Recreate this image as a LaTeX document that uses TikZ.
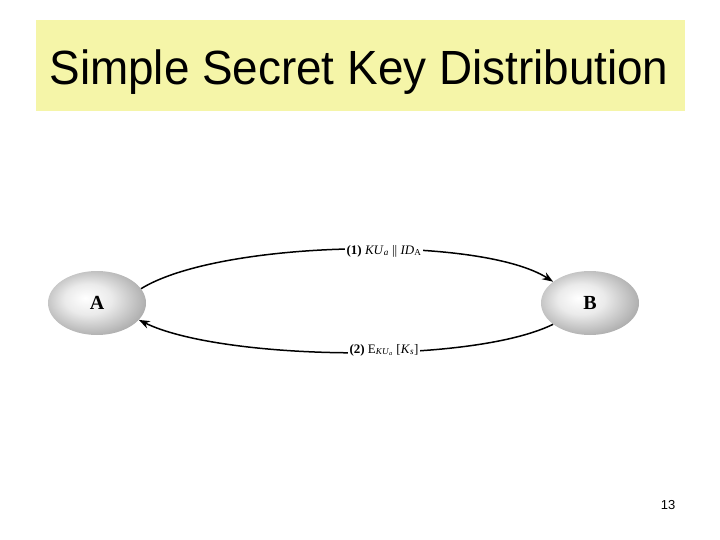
\documentclass[tikz,border=0pt]{standalone}
\usepackage{fontspec}
\setmainfont{Liberation Serif}
\newfontfamily\titlefont{Liberation Sans}
\usetikzlibrary{arrows.meta,shapes.geometric}
\definecolor{titlebg}{RGB}{245,245,168}
\pgfdeclareradialshading{ballgray}{\pgfpoint{-6bp}{4bp}}{%
  color(0bp)=(white);
  color(12bp)=(black!8);
  color(32bp)=(black!38);
  color(50bp)=(black!55)}
\tikzset{
  party/.style={ellipse, minimum width=98pt, minimum height=64pt, shading=ballgray, inner sep=0pt, font=\fontsize{20}{20}\selectfont\bfseries},
  msg/.style={-{Stealth[length=11pt,width=8pt]}, line width=1.5pt},
  lbl/.style={fill=white, inner sep=1.5pt, font=\fontsize{13}{15}\selectfont}
}
\begin{document}
\begin{tikzpicture}[x=1pt,y=-1pt]
\useasboundingbox (0,0) rectangle (720,540);
\node[fill=titlebg, minimum width=649pt, minimum height=91pt, anchor=north west, inner sep=0pt] (title) at (36,20) {};
\node[font=\titlefont\fontsize{48}{48}\selectfont, xscale=0.955] (titletext) at (359,72) {Simple Secret Key Distribution};
\node[party] (A) at (97,303) {A};
\node[party] (B) at (590,303) {B};
\draw[msg] (A.18) .. controls (220,240) and (480,235) .. (B.150);
\draw[msg] (B.-150) .. controls (470,365) and (220,360) .. (A.-22);
\node[lbl] (l1) at (384,251) {\textbf{(1)} \textit{KU}\textsubscript{\textit{a}} || \textit{ID}\textsubscript{A}};
\node[lbl] (l2) at (384,350) {\textbf{(2)} E\textsubscript{\textit{KU}\textsubscript{\textit{a}}} [\textit{K}\textsubscript{\textit{s}}]};
\node[font=\titlefont\fontsize{13}{13}\selectfont] (page) at (668,505) {13};
\end{tikzpicture}
\end{document}
